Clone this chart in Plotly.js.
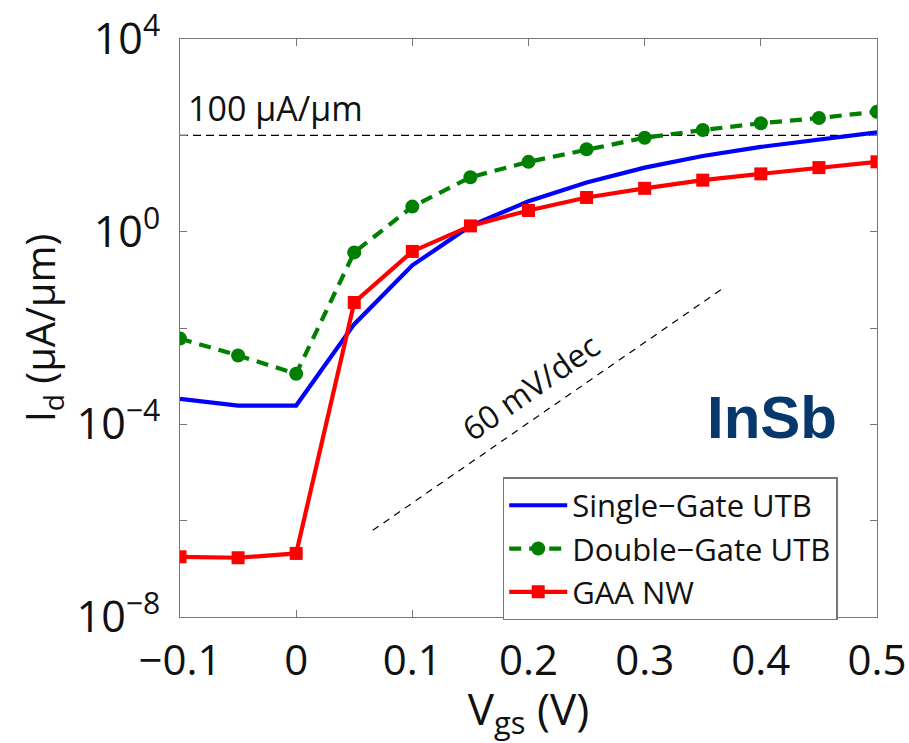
<!DOCTYPE html>
<html>
<head>
<meta charset="utf-8">
<script src="https://cdn.plot.ly/plotly-3.0.1.min.js"></script>
<style>html,body{margin:0;padding:0;background:#fff;}#chart{width:909px;height:743px;}</style>
</head>
<body>
<div id="chart"></div>
<script>
// Gate voltage (V)
const vgs = [-0.1, -0.05, 0, 0.05, 0.1, 0.15, 0.2, 0.25, 0.3, 0.35, 0.4, 0.45, 0.5];
// log10 of drain current (uA/um)
const singleGateLog = [-3.47, -3.61, -3.61, -1.92, -0.70, 0.12, 0.63, 1.02, 1.33, 1.57, 1.76, 1.92, 2.06];
const doubleGateLog = [-2.22, -2.57, -2.95, -0.43, 0.52, 1.13, 1.45, 1.71, 1.95, 2.11, 2.25, 2.36, 2.49];
const gaaLog        = [-6.75, -6.77, -6.68, -1.47, -0.41, 0.12, 0.44, 0.71, 0.90, 1.07, 1.20, 1.33, 1.45];

// 100 uA/um reference line
const refX = [-0.1, 0.5];
const refY = [100, 100];
// 60 mV/dec guide line
const slopeX = [0.066, 0.366];
const slopeY = [Math.pow(10, -6.2), Math.pow(10, -1.2)];

// tick labels
const xTickVals = [-0.1, 0, 0.1, 0.2, 0.3, 0.4, 0.5];
const xTickText = ['\u22120.1', '0', '0.1', '0.2', '0.3', '0.4', '0.5'];
const yTickVals = [1e-8, 1e-4, 1, 1e4];
const yTickText = ['10<sup>\u22128</sup>', '10<sup>\u22124</sup>', '10<sup>0</sup>', '10<sup>4</sup>'];
const yMinorVals = [1e-6, 1e-2, 1e2];

const names = ['Single\u2212Gate UTB', 'Double\u2212Gate UTB', 'GAA NW'];

const toLin = a => a.map(v => Math.pow(10, v));
const FONT = 'Open Sans, Noto Sans, sans-serif';

const traces = [
  {x: refX, y: refY, mode: 'lines', showlegend: false, hoverinfo: 'skip',
   line: {color: '#000', width: 1.2, dash: '8px,5px'}},
  {x: slopeX, y: slopeY, mode: 'lines', showlegend: false, hoverinfo: 'skip',
   line: {color: '#000', width: 1.2, dash: '7px,6px'}},
  {x: vgs, y: toLin(singleGateLog), name: names[0], mode: 'lines',
   line: {color: '#0000ff', width: 4.2}},
  {x: vgs, y: toLin(doubleGateLog), name: names[1], mode: 'lines+markers',
   line: {color: '#007f00', width: 4.2, dash: '12px,8px'},
   marker: {symbol: 'circle', size: 14, color: '#007f00'}},
  {x: vgs, y: toLin(gaaLog), name: names[2], mode: 'lines+markers',
   line: {color: '#ff0000', width: 4.2},
   marker: {symbol: 'square', size: 13, color: '#ff0000'}}
];

const layout = {
  width: 909, height: 743,
  margin: {l: 180, r: 32, t: 39, b: 126},
  paper_bgcolor: '#fff', plot_bgcolor: '#fff',
  font: {family: FONT, color: '#111'},
  showlegend: true,
  legend: {x: 0.463, y: 0.242, xanchor: 'left', yanchor: 'top',
    bgcolor: '#fff', bordercolor: '#777', borderwidth: 1.5, itemwidth: 58,
    font: {family: FONT, size: 31, color: '#111'}, tracegroupgap: 0},
  xaxis: {range: [-0.1, 0.5], tickmode: 'array', tickvals: xTickVals, ticktext: xTickText,
    ticks: 'inside', ticklen: 7, tickcolor: '#777', showline: true, linecolor: '#777', linewidth: 1.2,
    mirror: 'ticks', showgrid: false, zeroline: false,
    tickfont: {family: FONT, size: 42, color: '#111'}, ticklabelstandoff: 6,
    title: {text: 'V<sub>gs</sub> (V)', font: {family: FONT, size: 44, color: '#111'}, standoff: 8}},
  yaxis: {type: 'log', range: [-8, 4], tickmode: 'array', tickvals: yTickVals, ticktext: yTickText,
    ticks: 'inside', ticklen: 7, tickcolor: '#777', showline: true, linecolor: '#777', linewidth: 1.2,
    mirror: 'ticks', showgrid: false, zeroline: false,
    minor: {tickmode: 'array', tickvals: yMinorVals, ticks: 'inside', ticklen: 7, tickcolor: '#777', showgrid: false},
    tickfont: {family: FONT, size: 43, color: '#111'}, ticklabelstandoff: 10,
    title: {text: 'I<sub>d</sub> (\u00b5A/\u00b5m)', font: {family: FONT, size: 40, color: '#111'}, standoff: 8}},
  annotations: [
    {x: -0.095, y: 2.57, xref: 'x', yref: 'y', text: '100 \u00b5A/\u00b5m', showarrow: false,
     xanchor: 'left', yanchor: 'middle', font: {family: FONT, size: 34, color: '#111'}},
    {x: 0.2017, y: -3.21, xref: 'x', yref: 'y', text: '60 mV/dec', showarrow: false,
     textangle: -35, font: {family: FONT, size: 32, color: '#111'}},
    {x: 0.41, y: -3.86, xref: 'x', yref: 'y', text: '<b>InSb</b>', showarrow: false,
     font: {family: 'Liberation Sans, Arial, sans-serif', size: 60, color: '#06386b'}}
  ]
};

Plotly.newPlot('chart', traces, layout, {displayModeBar: false, staticPlot: true});
</script>
</body>
</html>
